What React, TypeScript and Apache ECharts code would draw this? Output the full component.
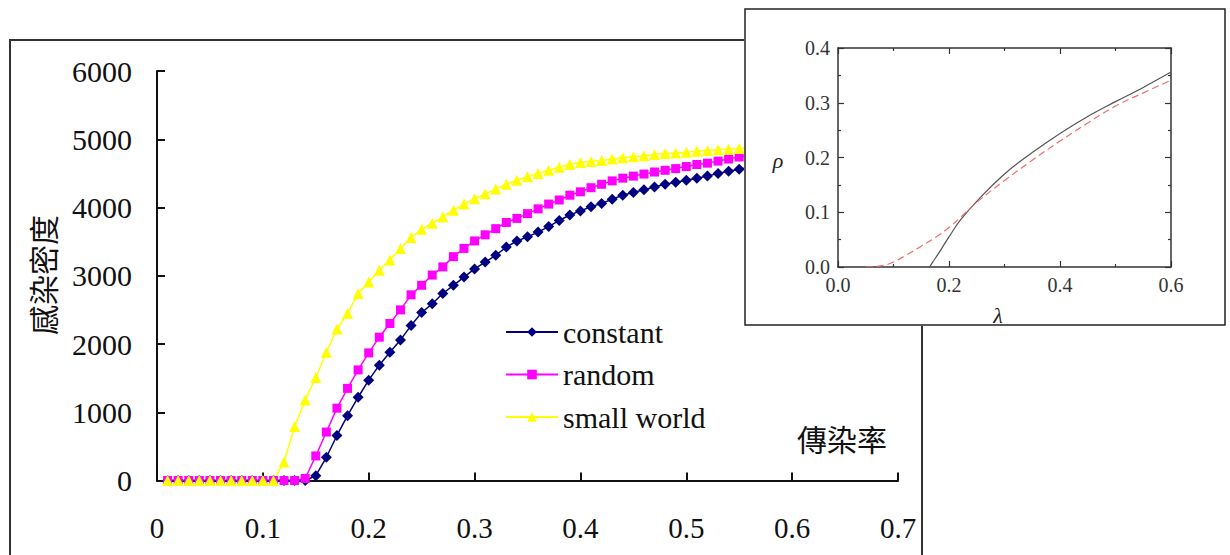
import React, { useEffect, useRef } from "react";
import * as echarts from "echarts";

// Transmission rate (x) for the simulation runs
const rates = [
  0.01, 0.02, 0.03, 0.04, 0.05, 0.06, 0.07, 0.08, 0.09, 0.1,
  0.11, 0.12, 0.13, 0.14, 0.15, 0.16, 0.17, 0.18, 0.19, 0.2,
  0.21, 0.22, 0.23, 0.24, 0.25, 0.26, 0.27, 0.28, 0.29, 0.3,
  0.31, 0.32, 0.33, 0.34, 0.35, 0.36, 0.37, 0.38, 0.39, 0.4,
  0.41, 0.42, 0.43, 0.44, 0.45, 0.46, 0.47, 0.48, 0.49, 0.5,
  0.51, 0.52, 0.53, 0.54, 0.55, 0.56,
];

// Infected density per network type
const constantDensity = [
  0, 0, 0, 0, 0, 0, 0, 0, 0, 0,
  0, 0, 0, 0, 70, 340, 660, 950, 1220, 1470,
  1690, 1880, 2060, 2270, 2460, 2590, 2740, 2860, 2980, 3100,
  3200, 3300, 3420, 3510, 3570, 3640, 3720, 3810, 3890, 3950,
  4010, 4060, 4120, 4180, 4220, 4260, 4300, 4340, 4370, 4400,
  4430, 4460, 4500, 4530, 4560, 4590,
];
const randomDensity = [
  0, 0, 0, 0, 0, 0, 0, 0, 0, 0,
  0, 0, 0, 30, 360, 710, 1060, 1350, 1620, 1870,
  2100, 2300, 2500, 2720, 2860, 3010, 3130, 3280, 3400, 3510,
  3600, 3690, 3780, 3840, 3910, 3980, 4050, 4110, 4180, 4230,
  4290, 4340, 4390, 4430, 4460, 4490, 4520, 4545, 4570, 4600,
  4630, 4650, 4680, 4710, 4740, 4760,
];
const smallWorldDensity = [
  0, 0, 0, 0, 0, 0, 0, 0, 0, 0,
  0, 270, 790, 1180, 1510, 1880, 2220, 2450, 2740, 2910,
  3080, 3230, 3400, 3560, 3680, 3770, 3860, 3960, 4050, 4130,
  4200, 4270, 4340, 4400, 4450, 4500, 4545, 4590, 4630, 4660,
  4675, 4690, 4710, 4730, 4745, 4760, 4775, 4790, 4800, 4810,
  4825, 4835, 4845, 4855, 4865, 4875,
];

const seriesNames = ["constant", "random", "small world"];

// Theory curves for the small panel: rho versus lambda
const solidLambda = [0.165, 0.17, 0.18, 0.19, 0.2, 0.22, 0.25, 0.3, 0.35, 0.4, 0.45, 0.5, 0.55, 0.6];
const solidRho = [0, 0.008, 0.023, 0.039, 0.055, 0.085, 0.12, 0.17, 0.209, 0.244, 0.275, 0.302, 0.328, 0.356];
const dashedLambda = [0.05, 0.07, 0.09, 0.1, 0.12, 0.15, 0.18, 0.2, 0.22, 0.25, 0.3, 0.35, 0.4, 0.45, 0.5, 0.55, 0.6];
const dashedRho = [0, 0.001, 0.005, 0.009, 0.02, 0.038, 0.057, 0.072, 0.09, 0.118, 0.158, 0.195, 0.23, 0.263, 0.294, 0.318, 0.341];

const pairs = (xs: number[], ys: number[]) => xs.map((x, i) => [x, ys[i]]);

const SERIF = "Liberation Serif";
const CJK = "Noto Sans CJK TC";

function MainChart() {
  const ref = useRef<HTMLDivElement>(null);
  useEffect(() => {
    if (!ref.current) return;
    const chart = echarts.init(ref.current, null, { renderer: "svg" });
    const lineSeries = (name: string, values: number[], color: string, symbol: string, size: number) => ({
      name,
      type: "line",
      data: pairs(rates, values),
      symbol,
      symbolSize: size,
      showSymbol: true,
      lineStyle: { color, width: 1.5 },
      itemStyle: { color, borderWidth: 0 },
      emphasis: { disabled: true },
    });
    chart.setOption({
      animation: false,
      backgroundColor: "#ffffff",
      grid: { left: 157, top: 71, width: 741, height: 409.5, containLabel: false },
      xAxis: {
        type: "value",
        min: 0,
        max: 0.7,
        interval: 0.1,
        axisLine: { show: true, lineStyle: { color: "#111", width: 2 } },
        axisTick: { show: true, inside: true, length: 8, lineStyle: { color: "#111", width: 2 } },
        splitLine: { show: false },
        axisLabel: {
          margin: 33,
          fontSize: 29,
          fontFamily: SERIF,
          color: "#111",
          formatter: (v: number) => String(+v.toFixed(1)),
        },
      },
      yAxis: {
        type: "value",
        min: 0,
        max: 6000,
        interval: 1000,
        axisLine: { show: true, lineStyle: { color: "#111", width: 2 } },
        axisTick: { show: true, inside: true, length: 8, lineStyle: { color: "#111", width: 2 } },
        splitLine: { show: false },
        axisLabel: {
          margin: 25,
          fontSize: 30,
          fontFamily: SERIF,
          color: "#111",
          formatter: (v: number) => String(v),
        },
      },
      legend: {
        data: seriesNames,
        orient: "vertical",
        left: 500,
        top: 311.5,
        itemWidth: 52,
        itemHeight: 12,
        itemGap: 11.5,
        textStyle: { fontSize: 30, lineHeight: 31, fontFamily: SERIF, color: "#111" },
        selectedMode: false,
      },
      graphic: [
        {
          type: "rect",
          shape: { x: 10, y: 40, width: 912, height: 560 },
          style: { fill: "none", stroke: "#333", lineWidth: 2 },
          silent: true,
        },
        {
          type: "text",
          x: 797,
          y: 438,
          style: {
            text: "傳染率",
            fontSize: 30,
            fontFamily: CJK,
            fill: "#111",
            align: "left",
            verticalAlign: "middle",
          },
        },
        {
          type: "text",
          x: 42,
          y: 275,
          rotation: Math.PI / 2,
          style: {
            text: "感染密度",
            fontSize: 30,
            fontFamily: CJK,
            fill: "#111",
            align: "center",
            verticalAlign: "middle",
          },
        },
      ],
      series: [
        lineSeries(seriesNames[0], constantDensity, "#000080", "diamond", 11),
        lineSeries(seriesNames[1], randomDensity, "#ff00ff", "rect", 9),
        lineSeries(seriesNames[2], smallWorldDensity, "#ffff00", "triangle", 11),
      ],
    });
    return () => chart.dispose();
  }, []);
  return <div ref={ref} style={{ position: "absolute", left: 0, top: 0, width: 1230, height: 555 }} />;
}

function TheoryChart() {
  const ref = useRef<HTMLDivElement>(null);
  useEffect(() => {
    if (!ref.current) return;
    const chart = echarts.init(ref.current, null, { renderer: "svg" });
    const axisColor = "#333";
    const baseAxis = (interval: number, max: number, showLabel: boolean, position: string) => ({
      type: "value",
      min: 0,
      max,
      interval,
      position,
      axisLine: { show: true, onZero: false, lineStyle: { color: axisColor, width: 1.5 } },
      axisTick: { show: true, inside: true, length: 6, lineStyle: { color: axisColor, width: 1.2 } },
      minorTick: { show: true, splitNumber: 2, length: 3, lineStyle: { color: axisColor, width: 1.2 } },
      splitLine: { show: false },
      minorSplitLine: { show: false },
      axisLabel: {
        show: showLabel,
        margin: 8,
        fontSize: 20,
        fontFamily: SERIF,
        color: "#333",
        formatter: (v: number) => v.toFixed(1),
      },
    });
    chart.setOption({
      animation: false,
      backgroundColor: "#ffffff",
      grid: { left: 94, top: 40, width: 333, height: 219, containLabel: false },
      xAxis: [baseAxis(0.2, 0.6, true, "bottom"), baseAxis(0.2, 0.6, false, "top")],
      yAxis: [baseAxis(0.1, 0.4, true, "left"), baseAxis(0.1, 0.4, false, "right")],
      graphic: [
        {
          type: "rect",
          shape: { x: 1, y: 1, width: 480, height: 316 },
          style: { fill: "none", stroke: "#222", lineWidth: 1.5 },
          silent: true,
        },
        {
          type: "text",
          x: 34,
          y: 152,
          style: {
            text: "ρ",
            fontSize: 22,
            fontStyle: "italic",
            fontFamily: SERIF,
            fill: "#222",
            align: "center",
            verticalAlign: "middle",
          },
        },
        {
          type: "text",
          x: 254,
          y: 307,
          style: {
            text: "λ",
            fontSize: 22,
            fontStyle: "italic",
            fontFamily: SERIF,
            fill: "#222",
            align: "center",
            verticalAlign: "middle",
          },
        },
      ],
      series: [
        {
          type: "line",
          data: pairs(solidLambda, solidRho),
          showSymbol: false,
          smooth: 0.4,
          lineStyle: { color: "#555", width: 1.2 },
          emphasis: { disabled: true },
        },
        {
          type: "line",
          data: pairs(dashedLambda, dashedRho),
          showSymbol: false,
          smooth: 0.4,
          lineStyle: { color: "#f06a6a", width: 1.2, type: [7, 4] },
          emphasis: { disabled: true },
        },
      ],
    });
    return () => chart.dispose();
  }, []);
  return (
    <div
      ref={ref}
      style={{ position: "absolute", left: 744, top: 8, width: 482, height: 318, zIndex: 2, background: "#fff" }}
    />
  );
}

export default function App() {
  return (
    <div style={{ position: "fixed", left: 0, top: 0, width: 1230, height: 555, background: "#fff", overflow: "hidden" }}>
      <MainChart />
      <TheoryChart />
    </div>
  );
}
